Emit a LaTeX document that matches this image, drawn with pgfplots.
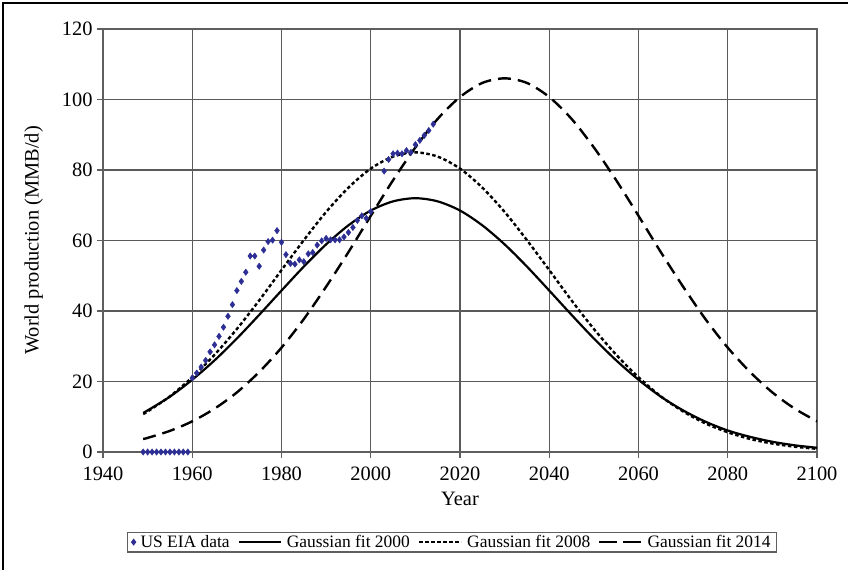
\documentclass[border=0pt]{standalone}
\usepackage{pgfplots}
\pgfplotsset{compat=1.18}
\usepackage{fontspec}
\setmainfont{Liberation Serif}

\definecolor{eiablue}{RGB}{44,46,148}
\definecolor{gridgray}{RGB}{90,90,90}
\definecolor{framegray}{RGB}{95,95,95}

% legend samples
\pgfplotsset{
  lineleg/.style={legend image code/.code={\draw[##1] (0bp,0bp) -- (42bp,0bp);}},
  longdashleg/.style={legend image code/.code={\draw[##1, dash pattern=on 18bp off 6bp] (0bp,0bp) -- (42bp,0bp);}},
  markleg/.style={legend image code/.code={\draw[mark=diamond*, mark size=2.6bp, eiablue] plot coordinates {(3bp,0bp)};}},
}

% US EIA world production, MMB/d
\pgfplotstableread{
year prod
1949 0
1950 0
1951 0
1952 0
1953 0
1954 0
1955 0
1956 0
1957 0
1958 0
1959 0
1960 21.0
1961 22.4
1962 24.1
1963 26.0
1964 28.4
1965 30.4
1966 32.8
1967 35.4
1968 38.5
1969 41.8
1970 45.8
1971 48.4
1972 51.0
1973 55.6
1974 55.6
1975 52.7
1976 57.3
1977 59.7
1978 60.1
1979 62.8
1980 59.5
1981 56.0
1982 53.5
1983 53.3
1984 54.5
1985 54.0
1986 56.2
1987 56.6
1988 58.7
1989 59.9
1990 60.6
1991 60.2
1992 60.2
1993 60.2
1994 61.0
1995 62.3
1996 63.7
1997 65.7
1998 67.0
1999 66.3
2000 68.2
2003 79.7
2004 83.0
2005 84.6
2006 84.8
2007 84.6
2008 85.5
2009 85.0
2010 87.2
2011 88.4
2012 89.8
2013 91.2
2014 93.0
}\eiadata

\pgfplotstableread{
year fit
1949 11.1
1950 11.8
1955 15.7
1960 20.5
1965 26.0
1970 32.2
1975 38.9
1980 45.8
1985 52.6
1990 58.9
1995 64.3
2000 68.5
2005 71.1
2010 72.0
2015 71.1
2020 68.5
2025 64.3
2030 58.9
2035 52.6
2040 45.8
2045 38.9
2050 32.2
2055 26.0
2060 20.5
2065 15.7
2070 11.8
2075 8.6
2080 6.1
2085 4.3
2090 2.9
2095 1.9
2100 1.2
}\fitA

\pgfplotstableread{
year fit
1949 10.8
1950 11.5
1955 15.8
1960 21.2
1965 27.6
1970 34.9
1975 43.0
1980 51.6
1985 60.1
1990 68.1
1995 75.0
2000 80.4
2005 83.8
2010 85.0
2015 83.8
2020 80.4
2025 75.0
2030 68.1
2035 60.1
2040 51.6
2045 43.0
2050 34.9
2055 27.6
2060 21.2
2065 15.8
2070 11.5
2075 8.1
2080 5.6
2085 3.7
2090 2.4
2095 1.5
2100 0.9
}\fitB

\pgfplotstableread{
year fit
1949 3.7
1950 4.0
1955 6.0
1960 8.7
1965 12.3
1970 16.9
1975 22.7
1980 29.6
1985 37.7
1990 46.9
1995 56.7
2000 67.0
2005 77.1
2010 86.4
2015 94.5
2020 100.7
2025 104.7
2030 106.0
2035 104.7
2040 100.7
2045 94.5
2050 86.4
2055 77.1
2060 67.0
2065 56.7
2070 46.9
2075 37.7
2080 29.6
2085 22.7
2090 16.9
2095 12.3
2100 8.7
}\fitC

\begin{document}
\begin{tikzpicture}
\useasboundingbox (0bp,0bp) rectangle (848bp,570bp);
% outer frame
\draw[line width=1.8bp,black] (3bp,0bp) -- (3bp,567bp) -- (848bp,567bp);
\begin{axis}[
  at={(103bp,118bp)}, anchor=south west,
  scale only axis,
  width=714bp, height=423bp,
  xmin=1940, xmax=2100, ymin=0, ymax=120,
  xtick={1940,1960,...,2100},
  ytick={0,20,...,120},
  /pgf/number format/assume math mode=true,
  /pgf/number format/1000 sep={},
  tick label style={font=\fontsize{20.5}{24}\selectfont},
  label style={font=\fontsize{20.5}{24}\selectfont},
  xlabel={Year},
  ylabel={World production (MMB/d)},
  xlabel style={at={(axis description cs:0.5,0)}, anchor=north, yshift=-37bp},
  ylabel style={at={(axis description cs:-0.079,0.5)}, anchor=south},
  grid=major,
  major grid style={line width=1.3bp, gridgray},
  axis line style={line width=1.8bp, framegray},
  tick align=outside,
  major tick length=6bp,
  tick style={line width=1.3bp, framegray},
  xtick pos=bottom, ytick pos=left,
  xticklabel style={yshift=-5bp},
  yticklabel style={xshift=-1bp},
  legend columns=4,
  legend style={
    at={(0.489,-0.213)}, anchor=center,
    draw=framegray, line width=1.2bp,
    font=\fontsize{17.5}{21}\selectfont,
    inner xsep=4bp, inner ysep=1bp,
    /tikz/every odd column/.append style={column sep=3bp},
    /tikz/every even column/.append style={column sep=6bp},
  },
  legend cell align=left,
]
\addplot[only marks, mark=diamond*, mark size=3.2bp, color=eiablue, markleg]
  table[x=year,y=prod] {\eiadata};
\addlegendentry{US EIA data}
\addplot[black, line width=2.2bp, smooth, lineleg]
  table[x=year,y=fit] {\fitA};
\addlegendentry{Gaussian fit 2000}
\addplot[black, line width=2.4bp, smooth, dash pattern=on 3.5bp off 2.5bp, lineleg]
  table[x=year,y=fit] {\fitB};
\addlegendentry{Gaussian fit 2008}
\addplot[black, line width=2.4bp, smooth, dash pattern=on 13bp off 7bp, longdashleg]
  table[x=year,y=fit] {\fitC};
\addlegendentry{Gaussian fit 2014}
\end{axis}
\end{tikzpicture}
\end{document}
